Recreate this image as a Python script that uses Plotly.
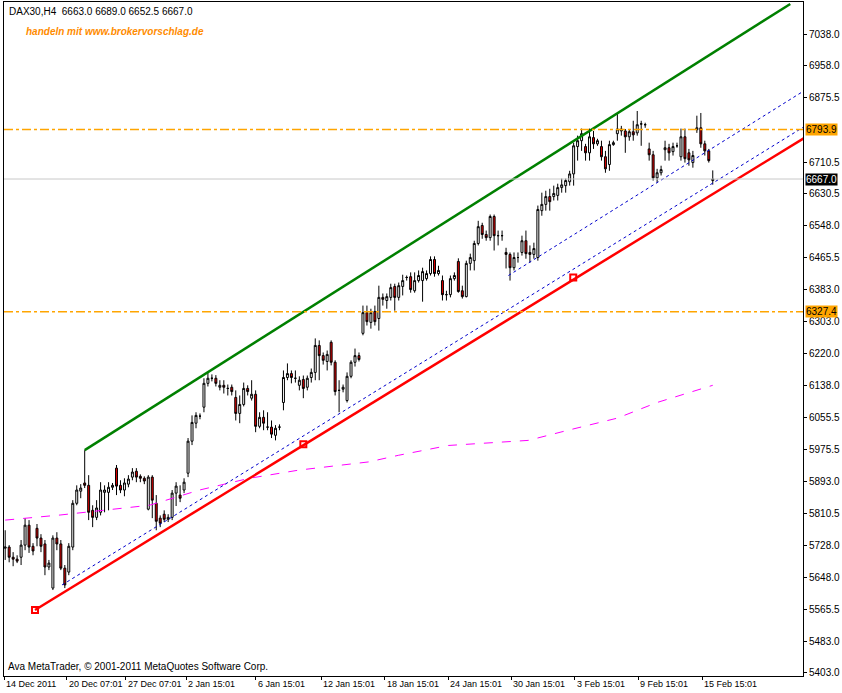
import plotly.graph_objects as go

opens = [5722,5725,5699,5694,5699,5730,5781,5727,5773,5748,5733,5674,5620,5748,5733,5671,5661,5725,5837,5868,
5889,5883,5819,5801,5814,5865,5865,5878,5927,5883,5871,5886,5904,5919,5906,5901,5822,5904,5837,5799,
5809,5796,5801,5863,5858,5871,5914,5996,6042,6060,6083,6144,6157,6157,6134,6139,6131,6134,6108,6067,
6090,6131,6106,6116,6034,6057,6032,6032,6011,6032,6095,6159,6169,6157,6139,6154,6134,6159,6172,6241,
6215,6200,6249,6198,6126,6129,6100,6162,6198,6215,6272,6325,6300,6328,6310,6364,6356,6364,6392,6364,
6392,6415,6417,6381,6407,6407,6412,6425,6461,6425,6407,6371,6371,6412,6456,6381,6366,6451,6458,6502,
6548,6525,6517,6571,6522,6522,6479,6474,6440,6466,6479,6509,6479,6474,6466,6586,6602,6622,6622,6625,
6645,6650,6660,6680,6750,6765,6750,6734,6773,6757,6750,6724,6704,6755,6783,6790,6790,6775,6788,6785,
6808,6806,6744,6729,6670,6683,6742,6747,6737,6752,6724,6775,6734,6709,6793,6798,6757,6739,6663]
highs = [5768,5730,5712,5704,5743,5799,5794,5735,5784,5758,5743,5692,5755,5763,5743,5679,5735,5845,5883,5886,
5973,5909,5832,5845,5891,5883,5891,5889,5935,5896,5901,5909,5927,5927,5911,5906,5909,5909,5858,5806,
5819,5809,5871,5891,5883,5901,6004,6062,6070,6067,6157,6172,6167,6165,6152,6152,6141,6141,6126,6113,
6146,6139,6152,6126,6070,6075,6070,6049,6037,6039,6177,6195,6177,6177,6162,6164,6164,6182,6259,6254,
6223,6228,6254,6203,6152,6141,6172,6203,6233,6223,6343,6343,6335,6343,6394,6374,6374,6399,6399,6402,
6422,6420,6428,6428,6433,6440,6433,6469,6469,6445,6420,6381,6420,6428,6464,6394,6458,6476,6509,6560,
6555,6535,6576,6576,6535,6535,6491,6479,6479,6479,6522,6535,6497,6504,6599,6632,6637,6642,6650,6655,
6668,6668,6688,6760,6778,6796,6757,6796,6790,6770,6765,6739,6765,6765,6836,6803,6795,6795,6816,6841,
6816,6811,6760,6739,6693,6701,6765,6757,6760,6760,6796,6796,6744,6739,6829,6836,6765,6744,6689]
lows = [5692,5686,5676,5684,5679,5717,5710,5704,5727,5712,5653,5666,5615,5717,5666,5620,5653,5717,5832,5850,
5876,5794,5776,5794,5806,5814,5819,5871,5858,5863,5855,5878,5896,5891,5891,5886,5819,5799,5768,5776,
5789,5789,5794,5830,5840,5863,5904,5986,6029,6052,6070,6136,6149,6136,6126,6118,6113,6113,6049,6042,
6085,6113,6100,6019,6029,6024,6024,6004,5998,6024,6075,6152,6144,6146,6126,6106,6126,6146,6152,6152,
6192,6177,6190,6113,6070,6121,6095,6157,6187,6200,6267,6292,6284,6292,6279,6343,6335,6356,6330,6356,
6369,6407,6376,6376,6402,6353,6407,6420,6417,6420,6356,6356,6364,6407,6376,6361,6364,6433,6433,6497,
6514,6509,6509,6484,6497,6509,6438,6407,6433,6453,6471,6463,6453,6463,6458,6573,6586,6586,6612,6612,
6632,6632,6650,6650,6714,6739,6714,6714,6744,6752,6714,6683,6688,6752,6765,6778,6734,6765,6765,6778,
6752,6798,6714,6663,6658,6676,6714,6714,6727,6747,6714,6709,6701,6696,6785,6747,6727,6709,6652.5]
closes = [5725,5699,5694,5689,5730,5781,5725,5715,5748,5727,5674,5684,5748,5733,5671,5628,5727,5837,5871,5876,
5883,5814,5801,5825,5871,5871,5878,5883,5881,5871,5889,5899,5917,5904,5901,5894,5904,5845,5791,5786,
5796,5801,5863,5881,5850,5891,5996,6044,6062,6060,6144,6157,6157,6144,6139,6134,6131,6123,6067,6090,
6131,6123,6116,6034,6057,6042,6032,6014,6029,6032,6159,6169,6159,6157,6152,6131,6157,6172,6241,6215,
6203,6218,6198,6123,6126,6134,6162,6198,6215,6205,6325,6302,6325,6302,6364,6359,6366,6389,6364,6394,
6407,6415,6384,6407,6420,6430,6425,6461,6425,6433,6371,6371,6412,6420,6379,6366,6451,6466,6502,6545,
6525,6517,6571,6522,6522,6522,6474,6440,6466,6466,6509,6476,6474,6489,6589,6602,6622,6609,6630,6645,
6652,6663,6680,6752,6765,6783,6734,6775,6757,6765,6724,6693,6755,6760,6795,6795,6775,6788,6780,6806,
6808,6806,6729,6670,6683,6691,6747,6734,6750,6752,6775,6719,6716,6727,6798,6757,6739,6714,6667]
bar_index = list(range(len(opens)))

# trend lines (bar index, price)
green_x, green_y = [20, 197.5], [5973, 7115]
red_x, red_y = [7.5, 201], [5564, 6772]
red_mark_x, red_mark_y = [7.5, 75, 142.9], [5564, 5988, 6415]
blue_lo_x, blue_lo_y = [14.3, 201], [5628, 6801]
blue_hi_x, blue_hi_y = [126.6, 201], [6420, 6893]
ma_x = [0, 13.8, 36.3, 48.9, 61.4, 73.9, 91.5, 99, 111.5, 131.6, 141.6, 154, 164, 178]
ma_y = [5794, 5807, 5832, 5871, 5901, 5922, 5943, 5960, 5985, 5998, 6024, 6055, 6095, 6139]
level_hi, level_lo, last_price = 6793.9, 6327.4, 6667.0

y_ticks = [7038.0, 6958.0, 6875.5, 6710.5, 6630.5, 6548.0, 6465.5, 6383.0, 6303.0, 6220.0,
           6138.0, 6055.5, 5975.5, 5893.0, 5810.5, 5728.0, 5648.0, 5565.5, 5483.0, 5403.0]
date_pos = [-0.3, 15.5, 30.3, 45.6, 63, 79.5, 95.5, 111.5, 127.3, 143.3, 159.3, 175.3]
date_labels = ["14 Dec 2011", "20 Dec 07:01", "27 Dec 07:01", "2 Jan 15:01", "6 Jan 15:01", "12 Jan 15:01",
               "18 Jan 15:01", "24 Jan 15:01", "30 Jan 15:01", "3 Feb 15:01", "9 Feb 15:01", "15 Feb 15:01"]

FONT = "Liberation Sans"
fig = go.Figure()
fig.add_hline(y=last_price, line=dict(color="#C8C8C8", width=1))
for lv in (level_hi, level_lo):
    fig.add_hline(y=lv, line=dict(color="#FFA500", width=1.5, dash="dashdot"))
fig.add_trace(go.Scatter(x=ma_x, y=ma_y, mode="lines", line=dict(color="#FF00FF", width=1, dash="dash")))
fig.add_trace(go.Scatter(x=blue_lo_x, y=blue_lo_y, mode="lines", line=dict(color="#0000CC", width=1, dash="dot")))
fig.add_trace(go.Scatter(x=blue_hi_x, y=blue_hi_y, mode="lines", line=dict(color="#0000CC", width=1, dash="dot")))
fig.add_trace(go.Candlestick(x=bar_index, open=opens, high=highs, low=lows, close=closes,
    increasing=dict(fillcolor="white", line=dict(color="black", width=1)),
    decreasing=dict(fillcolor="#E00000", line=dict(color="black", width=1)),
    whiskerwidth=0))
fig.add_trace(go.Scatter(x=green_x, y=green_y, mode="lines", line=dict(color="#008000", width=2.5)))
fig.add_trace(go.Scatter(x=red_x, y=red_y, mode="lines", line=dict(color="#FF0000", width=2.5)))
fig.add_trace(go.Scatter(x=red_mark_x, y=red_mark_y, mode="markers",
    marker=dict(symbol="square-open", size=6, color="#FF0000", line=dict(width=2))))

ann = [
    dict(x=0.004, y=0.997, xref="paper", yref="paper", xanchor="left", yanchor="top", showarrow=False,
         text="DAX30,H4  6663.0 6689.0 6652.5 6667.0", font=dict(size=10, color="black")),
    dict(x=0.025, y=0.968, xref="paper", yref="paper", xanchor="left", yanchor="top", showarrow=False,
         text="<b><i>handeln mit www.brokervorschlag.de</i></b>", font=dict(size=10, color="#FF8C00")),
    dict(x=0.002, y=0.003, xref="paper", yref="paper", xanchor="left", yanchor="bottom", showarrow=False,
         text="Ava MetaTrader, © 2001-2011 MetaQuotes Software Corp.", font=dict(size=10, color="black")),
]
for lv in (level_hi, level_lo):
    ann.append(dict(x=1.0, y=lv, xref="paper", yref="y", xanchor="left", xshift=2, showarrow=False,
                    text=f"{lv:.1f}", bgcolor="#FFA500", font=dict(size=10, color="black"), borderpad=0))
ann.append(dict(x=1.0, y=last_price, xref="paper", yref="y", xanchor="left", xshift=2, showarrow=False,
                text=f"{last_price:.1f}", bgcolor="black", font=dict(size=10, color="white"), borderpad=0))
for p, t in zip(date_pos, date_labels):
    ann.append(dict(x=p, y=0, xref="x", yref="paper", xanchor="left", yanchor="top", yshift=-1,
                    showarrow=False, text=t, font=dict(size=9, color="black")))

fig.update_layout(
    width=842, height=693, margin=dict(l=4, r=39, t=2, b=17),
    paper_bgcolor="white", plot_bgcolor="white", showlegend=False,
    font=dict(family=FONT, size=10, color="black"),
    annotations=ann,
    xaxis=dict(range=[-0.3, 200.7], rangeslider=dict(visible=False), showgrid=False, zeroline=False,
               showline=True, linecolor="black", mirror=True, tickvals=date_pos, ticktext=[""] * len(date_pos),
               ticks="outside", ticklen=3, tickcolor="black", automargin=False),
    yaxis=dict(range=[5395, 7120], side="right", showgrid=False, zeroline=False, showline=True,
               linecolor="black", mirror=True, tickvals=y_ticks, ticktext=[f"{v:.1f}" for v in y_ticks],
               ticks="outside", ticklen=3, tickcolor="black", tickfont=dict(size=10), automargin=False),
)
fig.write_html("out.html", config={"displayModeBar": False},
               post_script="document.body.style.margin='0';document.body.style.overflow='hidden';")
